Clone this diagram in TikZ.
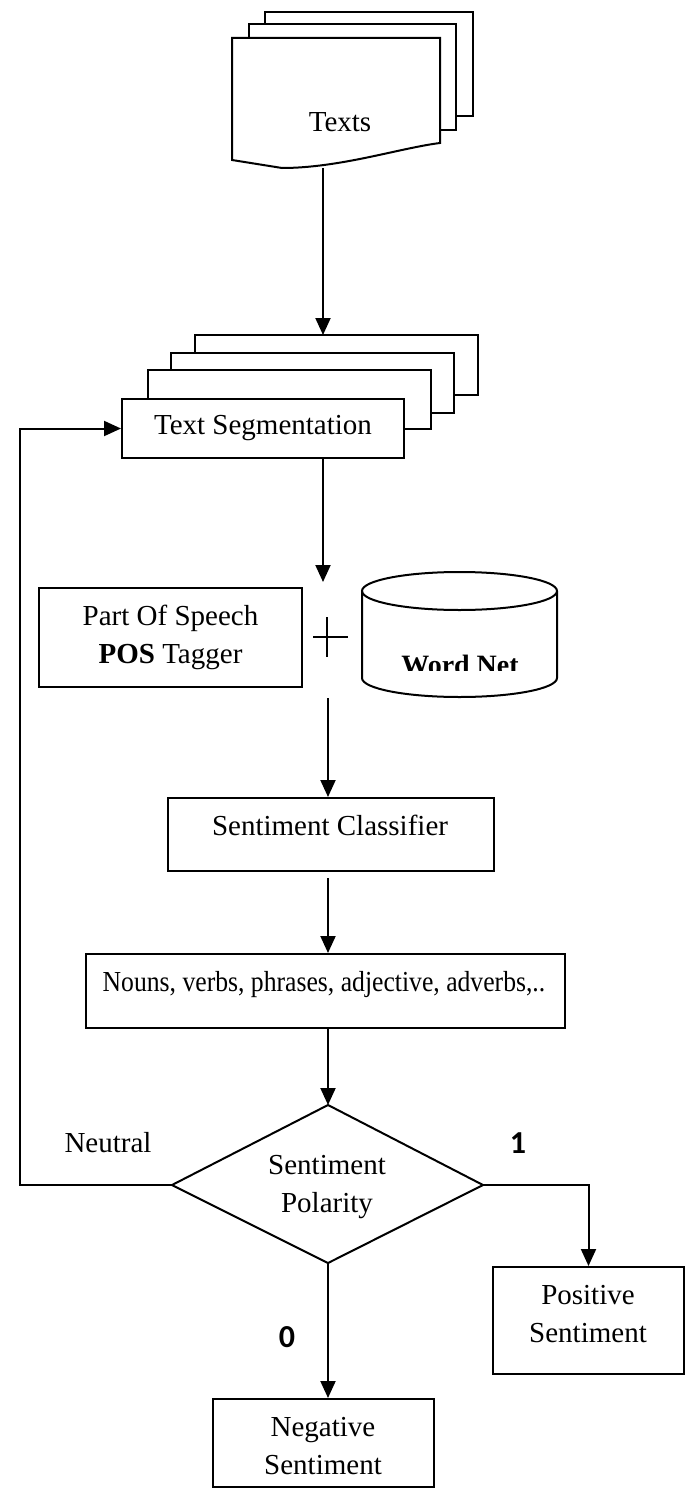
\documentclass[tikz,border=0pt]{standalone}
\usepackage{fontspec}
\setmainfont{Liberation Serif}
\newfontfamily\lblfont{Carlito}
\usetikzlibrary{arrows.meta}
\tikzset{
  ln/.style={line width=2pt},
  arr/.style={ln,-{Triangle[width=15pt,length=17pt]}},
  box/.style={draw,ln,inner sep=0pt,anchor=north west},
  txt/.style={font=\fontsize{29}{38}\selectfont,align=center,inner sep=0pt},
  lbl/.style={font=\lblfont\bfseries\fontsize{32}{34}\selectfont,inner sep=0pt},
}
\begin{document}
\begin{tikzpicture}[x=1pt,y=1pt]
\useasboundingbox (0,0) rectangle (691,-1488);
% --- Texts document stack
\draw[ln] (265,-24) -- (265,-12) -- (473,-12) -- (473,-116) -- (456,-116);
\draw[ln] (249,-38) -- (249,-24) -- (456,-24) -- (456,-130) -- (440,-130);
\draw[ln,fill=white] (232,-38) -- (440,-38) -- (440,-143)
   .. controls (400,-148) and (340,-168) .. (282,-168) -- (232,-160) -- cycle;
\node[txt] (texts) at (340,-122) {Texts};
\coordinate (txtB) at (323,-168);
% --- Text segmentation stack
\draw[ln] (195,-353) -- (195,-335) -- (478,-335) -- (478,-395) -- (454,-395);
\draw[ln] (171,-370) -- (171,-353) -- (454,-353) -- (454,-413) -- (431,-413);
\draw[ln] (148,-398) -- (148,-370) -- (431,-370) -- (431,-429) -- (403,-429);
\node[box,txt,minimum width=282pt,minimum height=59pt] (seg) at (121,-398) {Text Segmentation};
\coordinate (segTop) at (323,-335);
\draw[arr] (txtB) -- (segTop);
% --- POS tagger + WordNet
\node[box,txt,minimum width=263pt,minimum height=99pt] (posTag) at (38,-587) {Part Of Speech\\\textbf{POS} Tagger};
\coordinate (plusT) at (323,-582);
\draw[arr] (seg.south -| plusT) -- (plusT);
\draw[line width=1.5pt] (327,-617) -- (327,-657) (313,-637) -- (348,-637);
\draw[ln] (362,-591) -- (362,-678) arc[start angle=180,end angle=360,x radius=97.5,y radius=19] -- (557,-591);
\draw[ln] (459.5,-591) ellipse[x radius=97.5,y radius=19];
\begin{scope}
  \clip (360,-640) rectangle (560,-670);
  \node[font=\bfseries\fontsize{28}{30}\selectfont,inner sep=0pt,anchor=base] (wn) at (460,-674) {Word Net};
\end{scope}
% --- Sentiment classifier
\coordinate (clsIn) at (328,-698);
\node[box,minimum width=326pt,minimum height=73pt] (cls) at (167,-797) {};
\node[txt] (clsT) at (330,-825) {Sentiment Classifier};
\draw[arr] (clsIn) -- (clsIn |- cls.north);
% --- Nouns box
\coordinate (clsOut) at (328,-878);
\node[box,minimum width=479pt,minimum height=74pt] (nouns) at (85,-953) {};
\node[txt] (nounsT) at (324,-985) {\scalebox{0.885}[1]{Nouns, verbs, phrases, adjective, adverbs,..}};
\draw[arr] (clsOut) -- (clsOut |- nouns.north);
% --- Diamond
\coordinate (dN) at (328,-1105);
\coordinate (dS) at (328,-1263);
\coordinate (dW) at (172,-1185);
\coordinate (dE) at (483,-1185);
\draw[ln] (dN) -- (dE) -- (dS) -- (dW) -- cycle;
\node[txt] (pol) at (327,-1187) {Sentiment\\Polarity};
\draw[arr] (nouns.south -| dN) -- (dN);
% --- feedback
\coordinate (fb) at (20,-1185);
\draw[arr] (dW) -- (fb) |- (seg.west);
\node[txt] (neutral) at (108,-1143) {Neutral};
% --- positive
\node[box,minimum width=191pt,minimum height=107pt] (posS) at (492,-1266) {};
\node[txt] (posST) at (588,-1314) {Positive\\Sentiment};
\draw[arr] (dE) -| (posS.north);
\node[lbl] (one) at (518,-1143) {1};
% --- negative
\node[box,minimum width=221pt,minimum height=88pt] (neg) at (212,-1398) {};
\node[txt] (negT) at (323,-1446) {Negative\\Sentiment};
\draw[arr] (dS) -- (dS |- neg.north);
\node[lbl] (zero) at (287,-1337) {0};
\end{tikzpicture}
\end{document}
